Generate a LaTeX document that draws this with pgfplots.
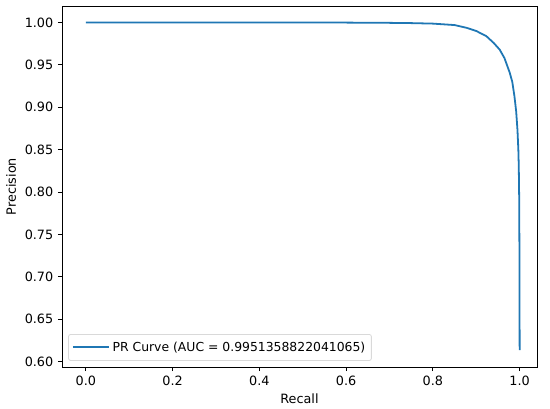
\documentclass[border=0pt]{standalone}
\usepackage{fontspec}
\setmainfont{DejaVu Sans}
\usepackage{pgfplots}
\pgfplotsset{compat=1.18}
\definecolor{mplblue}{HTML}{1F77B4}
\begin{document}
\fontsize{9.6}{11.5}\selectfont
\begin{tikzpicture}
\path (-46.5pt,-31.5pt) rectangle (366pt,275.25pt);
\begin{axis}[
  at={(0,0)}, anchor=south west,
  scale only axis,
  width=356.25pt, height=270.75pt,
  xmin=-0.055, xmax=1.04,
  ymin=0.5935, ymax=1.0195,
  xtick={0,0.2,0.4,0.6,0.8,1.0},
  ytick={0.60,0.65,0.70,0.75,0.80,0.85,0.90,0.95,1.00},
  xticklabel style={/pgf/number format/.cd, fixed, fixed zerofill, precision=1},
  yticklabel style={/pgf/number format/.cd, fixed, fixed zerofill, precision=2},
  /pgf/number format/assume math mode=true,
  tick align=outside, tick pos=left,
  major tick length=3.15pt,
  tick style={black, line width=0.6pt},
  axis line style={black, line width=0.6pt},
  ticklabel style={font=\fontsize{9.6}{11.5}\selectfont},
  xlabel={Recall}, ylabel={Precision},
  label style={font=\fontsize{9.6}{11.5}\selectfont},
  legend style={draw=black!15, line width=0.6pt, rounded corners=1.5pt, font=\fontsize{9.3}{11}\selectfont, at={(0.013,0.017)}, anchor=south west, inner xsep=2.5pt, inner ysep=3.5pt},
  legend cell align=left,
  legend image code/.code={\draw[#1] (2.5pt,0pt) -- (23.5pt,0pt); \path (0pt,0pt) -- (27pt,0pt);},
  legend image post style={draw=mplblue, line width=1.5pt},
]
\addplot[mplblue, line width=1.34pt] coordinates {
(0,1.0) (0.3,1.0) (0.5,1.0) (0.6,0.9999) (0.7,0.9996) (0.75,0.9993) (0.8,0.9987)
(0.85,0.997) (0.878,0.9937) (0.9,0.990) (0.923,0.984) (0.94,0.976) (0.954,0.968)
(0.965,0.958) (0.977,0.941) (0.983,0.93) (0.988,0.913) (0.992,0.895) (0.995,0.873)
(0.997,0.85) (0.998,0.83) (0.999,0.79) (0.9995,0.73) (0.9998,0.66) (1.0,0.6135)
};
\addlegendentry{PR Curve (AUC = 0.9951358822041065)}
\end{axis}
\end{tikzpicture}
\end{document}
